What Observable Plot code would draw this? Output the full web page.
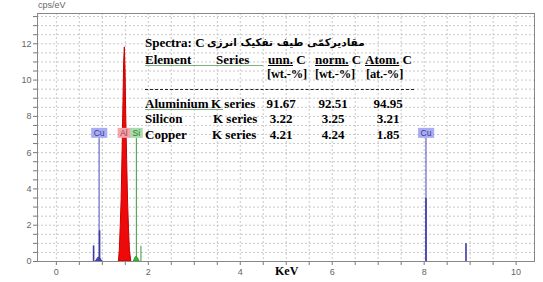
<!DOCTYPE html>
<html><head><meta charset="utf-8">
<script src="https://cdn.jsdelivr.net/npm/d3@7"></script>
<script src="https://cdn.jsdelivr.net/npm/@observablehq/plot@0.6"></script>
<style>
body{margin:0;background:#fff;}
#wrap{position:relative;width:543px;height:282px;overflow:hidden;}
#wrap svg{position:absolute;left:0;top:0;}
.t{position:absolute;font:bold 13px "Liberation Serif","Times New Roman",serif;color:#000;white-space:nowrap;line-height:12px;}
.c{transform:translateX(-50%);}
.ax{position:absolute;font:9px "Liberation Sans",Arial,sans-serif;color:#666;white-space:nowrap;}
</style></head>
<body><div id="wrap"></div>
<script>
// ---- table data ----
const elements = ["Aluminium", "Silicon", "Copper"];
const seriesNames = ["K series", "K series", "K series"];
const unnC = ["91.67", "3.22", "4.21"];
const normC = ["92.51", "3.25", "4.24"];
const atomC = ["94.95", "3.21", "1.85"];
const headers = ["Element", "Series", "unn. C", "norm. C", "Atom. C"];
const units = ["[wt.-%]", "[wt.-%]", "[at.-%]"];

// ---- spectrum data (keV, cps/eV) ----
const alEnergy = [1.36, 1.38, 1.40, 1.42, 1.44, 1.46, 1.475, 1.49, 1.505, 1.52, 1.54, 1.56, 1.58, 1.60, 1.63];
const alCps    = [0.0, 0.6, 1.9, 3.4, 5.9, 8.8, 11.0, 11.8, 10.6, 8.0, 5.6, 3.3, 1.8, 0.6, 0.0];
const siEnergy = [1.69, 1.71, 1.73, 1.75, 1.77, 1.79, 1.81];
const siCps    = [0.0, 0.15, 0.24, 0.26, 0.2, 0.1, 0.0];
const cuLEnergy = [0.86, 0.89, 0.92, 0.95, 0.98, 1.01];
const cuLCps    = [0.0, 0.12, 0.22, 0.18, 0.08, 0.0];
const blueSpikeE   = [0.81, 0.94, 8.04, 8.91];
const blueSpikeCps = [0.86, 1.69, 3.47, 0.98];
const greenSpikeE   = [1.84];
const greenSpikeCps = [0.84];

// ---- element markers ----
const markerEl = ["Cu", "Al", "Si", "Cu"];
const markerE  = [0.93, 1.47, 1.74, 8.04];
const markerTop = [6.8, 6.8, 6.8, 6.8];
const markerLine = ["#4b4bb8", "#d44", "#3c963c", "#4b4bb8"];
const markerBox  = ["#a9acf2", "#f4a4ac", "#a8dca8"];
const markerInk  = ["#3a3a9a", "#a03a3a", "#2f7a2f"];
const markerKind = [0, 1, 2, 0];

const xTicks = d3.range(0, 10.01, 0.5);
const xLabels = [0, 2, 4, 6, 8, 10];
const yTicks = d3.range(0, 13.51, 0.5);
const yLabels = [0, 2, 4, 6, 8, 10, 12];

const al = alEnergy.map((e, i) => ({e, v: alCps[i]}));
const si = siEnergy.map((e, i) => ({e, v: siCps[i]}));
const cuL = cuLEnergy.map((e, i) => ({e, v: cuLCps[i]}));
const blue = blueSpikeE.map((e, i) => ({e, v: blueSpikeCps[i]}));
const green = greenSpikeE.map((e, i) => ({e, v: greenSpikeCps[i]}));
const markers = markerEl.map((el, i) => ({el, e: markerE[i], top: markerTop[i], line: markerLine[i], box: markerBox[markerKind[i]], ink: markerInk[markerKind[i]]}));

const chart = Plot.plot({
  width: 543, height: 282,
  marginLeft: 37, marginRight: 9, marginTop: 13, marginBottom: 21,
  x: {domain: [-0.41, 10.4]},
  y: {domain: [0, 13.67]},
  style: {fontFamily: "Liberation Sans, Arial, sans-serif", fontSize: "9px", color: "#666", background: "#fff"},
  marks: [
    Plot.gridX(xTicks, {stroke: "#c8c8c8", strokeOpacity: 1, strokeDasharray: "2,2"}),
    Plot.gridY(yTicks, {stroke: "#c8c8c8", strokeOpacity: 1, strokeDasharray: "2,2"}),
    Plot.axisX(xTicks, {tickSize: 4, tickFormat: d => xLabels.includes(d) ? d : "", stroke: "#777", tickPadding: 3, label: null}),
    Plot.axisY(yTicks, {tickSize: 4, tickFormat: d => yLabels.includes(d) ? d : "", stroke: "#777", tickPadding: 2, label: null}),
    Plot.ruleX(markers, {x: "e", y1: 0, y2: "top", stroke: "line", strokeWidth: 1}),
    Plot.areaY(cuL, {x: "e", y: "v", fill: "#4b4bc8", stroke: "#3a3aa8", strokeWidth: 1}),
    Plot.ruleX(blue, {x: "e", y1: 0, y2: "v", stroke: "#3a3aa8", strokeWidth: 1.6}),
    Plot.areaY(si, {x: "e", y: "v", fill: "#2fc02f", stroke: "#2a9a2a"}),
    Plot.ruleX(green, {x: "e", y1: 0, y2: "v", stroke: "#3c963c", strokeWidth: 1}),
    Plot.areaY(al, {x: "e", y: "v", fill: "#ee0a0a", stroke: "#c80000", strokeWidth: 1}),
    Plot.text(markers, {x: "e", y: "top", text: "el", dy: -5, fill: "ink", fontSize: 8.5, fontFamily: "Liberation Sans, Arial, sans-serif", className: "mk"}),
    Plot.ruleY([0], {stroke: "#777"}),
    Plot.frame({stroke: "#888"})
  ]
});
const wrap = document.getElementById("wrap");
wrap.appendChild(chart);

// label boxes behind marker texts
const g = chart.querySelector("g.mk");
if (g) {
  g.querySelectorAll("text").forEach((t, i) => {
    const b = t.getBBox();
    const r = document.createElementNS("http://www.w3.org/2000/svg", "rect");
    r.setAttribute("x", b.x - 2.5); r.setAttribute("y", b.y);
    r.setAttribute("width", b.width + 5); r.setAttribute("height", b.height);
    r.setAttribute("fill", markers[i].box);
    const tr = t.getAttribute("transform");
    if (tr) r.setAttribute("transform", tr);
    g.insertBefore(r, g.firstChild);
  });
}

// overlay texts
function add(html, left, top, cls, extra) {
  const d = document.createElement("div");
  d.className = cls || "t";
  d.innerHTML = html;
  d.style.left = left + "px"; d.style.top = top + "px";
  if (extra) Object.assign(d.style, extra);
  wrap.appendChild(d);
  return d;
}
add("cps/eV", 38, 0, "ax");
add("KeV", 275, 265, "t", {fontSize: "12px"});
add("Spectra: C", 145, 37, "t");
add("<span dir='rtl'>مقادیرکمّی طیف تفکیک انرژی</span>", 207, 36, "t", {fontFamily: "'DejaVu Sans', sans-serif", fontSize: "10.5px", letterSpacing: "-0.3px", lineHeight: "13px"});

const colX = [145, 216, 268, 315, 365];
add(headers[0], colX[0], 54, "t", {borderBottom: "1px solid #7fb07f", paddingRight: "72px", lineHeight: "11px"});
add(headers[1], colX[1], 54, "t");
add("<u>unn.</u> C", colX[2], 54, "t");
add("<u>norm.</u> C", colX[3], 54, "t");
add("<u>Atom.</u> C", colX[4], 54, "t");
const unitX = [267, 315, 366];
units.forEach((u, i) => add(u, unitX[i], 67.5, "t", {fontSize: "12.5px", letterSpacing: "-0.2px"}));
add("", 145, 89, "t", {width: "269px", borderTop: "1.5px dashed #222", height: "0"});

const rowY = [97.5, 113, 128.5];
const numC = [281, 333, 388];
elements.forEach((el, i) => {
  add(el, 145, rowY[i], "t", i === 0 ? {borderBottom: "1px solid #7fb07f", paddingRight: "14px", lineHeight: "11px"} : null);
  add(seriesNames[i], [211, 213, 212][i], rowY[i], "t");
  add(unnC[i], numC[0], rowY[i], "t c");
  add(normC[i], numC[1], rowY[i], "t c");
  add(atomC[i], numC[2], rowY[i], "t c");
});
</script></body></html>
